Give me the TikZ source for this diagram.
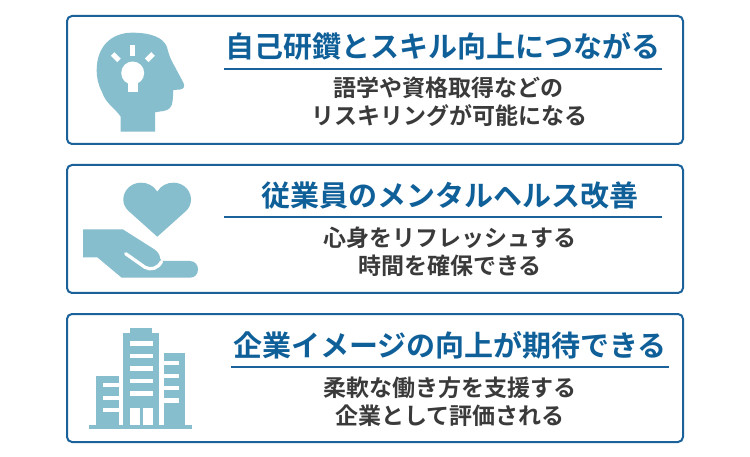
\documentclass[tikz,border=0pt]{standalone}
\usepackage{fontspec}
\usepackage{xcolor}
\newfontfamily\cjk{Noto Sans CJK JP}[BoldFont={Noto Sans CJK JP Bold}]
\usetikzlibrary{calc}
\definecolor{bleu}{HTML}{1A6299}
\definecolor{titre}{HTML}{0F5F99}
\definecolor{gris}{HTML}{3A3A3A}
\definecolor{icone}{HTML}{86BECD}

\begin{document}
\begin{tikzpicture}[x=1pt,y=-1pt,
        boite/.style={draw=bleu,line width=2pt,rounded corners=5pt,fill=white},
        filet/.style={draw=bleu,line width=1.4pt},
        titreb/.style={anchor=base,inner sep=0pt,text=titre,font=\cjk\bfseries\fontsize{29}{30}\selectfont},
        texte/.style={anchor=base,inner sep=0pt,text=gris,font=\cjk\bfseries\fontsize{23}{26}\selectfont}]
            \useasboundingbox (0,0) rectangle (750,457);

            % Cadre du haut
            \draw[boite] (67,16) rectangle (683,144);
            \coordinate (R1a) at (224,69);
            \coordinate (R1b) at (662,69);
            \draw[filet] (R1a) -- (R1b);
            \node[titreb] (T1) at (442.5,58) {自己研鑽とスキル向上につながる};
            \node[texte] (L1a) at (448,96.5) {語学や資格取得などの};
            \node[texte] (L1b) at (449,125) {リスキリングが可能になる};

            % Tete et ampoule
            \fill[icone] (120.7,131.7) -- (120.7,116.7)
                .. controls (115,108) and (106,104) .. (102,92)
                .. controls (98,84) and (96.7,78) .. (96.7,70)
                .. controls (96.7,46) and (112,32.7) .. (132,32.7)
                .. controls (150,32.7) and (163,37) .. (167,47)
                .. controls (169,56) and (172,62) .. (175,67)
                -- (183.5,83) .. controls (185,86) and (184,89) .. (180,89.5)
                -- (173.3,90) .. controls (173,96) and (173,101) .. (171.7,105)
                .. controls (170,110) and (165,111) .. (160,111.5)
                -- (155,112.3) -- (155,131.7) -- cycle;
            \fill[white] (132.7,73) circle (11.5);
            \fill[white] (128,78) rectangle (138,92.3);
            \fill[white] (130.3,45) rectangle (135.3,55.7);
            \draw[white,line width=5pt] (112.7,54) -- (119,60.3);
            \draw[white,line width=5pt] (153,54) -- (146.7,60.3);

            % Cadre du milieu
            \draw[boite] (67,165) rectangle (683,293);
            \coordinate (R2a) at (224,217);
            \coordinate (R2b) at (662,217);
            \draw[filet] (R2a) -- (R2b);
            \node[titreb] (T2) at (449.5,207) {従業員のメンタルヘルス改善};
            \node[texte] (L2a) at (450,246.5) {心身をリフレッシュする};
            \node[texte] (L2b) at (450,274.5) {時間を確保できる};

            % Coeur
            \fill[icone] (157.3,191.7)
                .. controls (161,185.5) and (167,182.7) .. (173.5,182.7)
                .. controls (184,182.7) and (191,191) .. (191,199.5)
                .. controls (191,204.5) and (189,208) .. (186,211)
                -- (157.3,236.7) -- (128.6,211)
                .. controls (125.5,208) and (123.3,204.5) .. (123.3,199.5)
                .. controls (123.3,191) and (130.5,182.7) .. (141,182.7)
                .. controls (147.5,182.7) and (153.5,185.5) .. (157.3,191.7) -- cycle;

            % Main
            \fill[icone] (83,229.3) -- (122.7,229.3) -- (154.3,249.3)
                .. controls (158,252) and (160,255) .. (160,258.3)
                -- (161.7,261) -- (190,261)
                .. controls (195,261) and (198,265) .. (198,269.3)
                .. controls (198,274) and (195,277.7) .. (190,277.7)
                -- (121.7,277.7) -- (97.3,257.3) -- (83,257.3) -- cycle;
            \draw[white,line width=3.3pt,line cap=round] (125.7,253.7) -- (145,267.3)
                .. controls (151,270.5) and (158,268.5) .. (161.5,261.5);

            % Cadre du bas
            \draw[boite] (67,314) rectangle (683,442);
            \coordinate (R3a) at (231,367);
            \coordinate (R3b) at (669,367);
            \draw[filet] (R3a) -- (R3b);
            \node[titreb] (T3) at (450,356) {企業イメージの向上が期待できる};
            \node[texte] (L3a) at (450,396.5) {柔軟な働き方を支援する};
            \node[texte] (L3b) at (450,424.5) {企業として評価される};

            % Immeubles
            \fill[icone] (89.3,425) rectangle (191.7,429.3);
            \fill[icone] (96,376) rectangle (118.7,425);
            \fill[icone] (123.3,332.7) rectangle (159,425);
            \fill[icone] (130.3,328) rectangle (152.3,332.7);
            \fill[icone] (164.3,353.3) rectangle (184.7,425);
            % Fenetres a gauche
            \fill[white] (103,383.3) rectangle (118.7,387.3);
            \fill[white] (103,396) rectangle (118.7,400);
            \fill[white] (103,408.3) rectangle (118.7,412.3);
            % Fenetres au centre
            \fill[white] (129.7,341) rectangle (153,345.7);
            \fill[white] (129.7,353.7) rectangle (153,358.3);
            \fill[white] (129.7,366) rectangle (153,370.7);
            \fill[white] (129.7,378.7) rectangle (153,383.3);
            \fill[white] (129.7,391) rectangle (153,395.7);
            \fill[white] (129.7,408) rectangle (139.7,425);
            \fill[white] (143,408) rectangle (153,425);
            % Fenetres a droite
            \fill[white] (164.3,361) rectangle (179,365);
            \fill[white] (164.3,373.7) rectangle (179,377.7);
            \fill[white] (164.3,386) rectangle (179,390);
            \fill[white] (164.3,398.3) rectangle (179,402.7);
        \end{tikzpicture}
\end{document}
